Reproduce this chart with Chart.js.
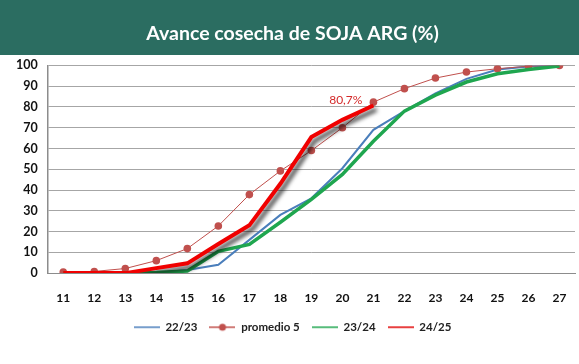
<!DOCTYPE html>
<html>
<head>
<meta charset="utf-8">
<script src="https://cdn.jsdelivr.net/npm/chart.js@4.4.1/dist/chart.umd.min.js"></script>
<style>
html,body{margin:0;padding:0;background:#fff;}
#wrap{width:579px;height:364px;position:relative;}
</style>
</head>
<body>
<div id="wrap"><canvas id="c" width="579" height="364"></canvas></div>
<script>
const weeks = ['11','12','13','14','15','16','17','18','19','20','21','22','23','24','25','26','27'];
const s2223 = [0, 0, 0, 0, 1.5, 4, 16, 28, 36, 50.5, 69, 78, 86.5, 93.5, 98, 99.5, 100];
const promedio5 = [0.5, 0.8, 2.2, 6, 11.8, 22.7, 37.8, 49.2, 59, 70, 82.3, 88.8, 93.9, 96.8, 98.4, 99.6, 100];
const s2324 = [0, 0, 0, 0.3, 1, 10.5, 13.8, 24.5, 35.5, 47.5, 63.5, 78, 85.7, 92, 96, 98, 99.7];
const s2425 = [0, 0, 0, 2.4, 4.7, 14, 23, 43, 65.5, 73.8, 80.7, null, null, null, null, null, null];
const yTicks = [0, 10, 20, 30, 40, 50, 60, 70, 80, 90, 100];
const titleText = 'Avance cosecha de SOJA ARG (%)';
const lastLabel = '80,7%';

const FONT = 'Lato, "Liberation Sans", sans-serif';

function legendImg(color, width, dot) {
  const cv = document.createElement('canvas');
  cv.width = 26; cv.height = 10;
  const c = cv.getContext('2d');
  c.strokeStyle = color; c.lineWidth = width;
  c.beginPath(); c.moveTo(0, 5); c.lineTo(26, 5); c.stroke();
  if (dot) { c.fillStyle = color; c.beginPath(); c.arc(13, 5, 3.5, 0, Math.PI * 2); c.fill(); }
  return cv;
}
const legImgs = [
  legendImg('#4a7ebb', 1.5, false),
  legendImg('#c0504d', 1.5, true),
  legendImg('#1fa64f', 1.5, false),
  legendImg('#e00000', 1.5, false)
];

const bgPlugin = {
  id: 'bg',
  beforeDraw(chart) {
    const ctx = chart.ctx;
    ctx.save();
    ctx.fillStyle = '#ffffff';
    ctx.fillRect(0, 0, chart.width, chart.height);
    ctx.fillStyle = '#2b6d61';
    ctx.fillRect(0, 0, chart.width, 55);
    ctx.restore();
  }
};

const shadowPlugin = {
  id: 'shadow',
  beforeDatasetDraw(chart, args) {
    if (args.index === 3) {
      const ctx = chart.ctx;
      ctx.save();
      ctx.shadowColor = 'rgba(0,0,0,0.75)';
      ctx.shadowBlur = 4;
      ctx.shadowOffsetX = 3;
      ctx.shadowOffsetY = 4;
    }
  },
  afterDatasetDraw(chart, args) {
    if (args.index === 3) chart.ctx.restore();
  }
};

const labelPlugin = {
  id: 'lastlabel',
  afterDatasetsDraw(chart) {
    const meta = chart.getDatasetMeta(3);
    const idx = 10;
    const pt = meta.data[idx];
    if (!pt) return;
    const ctx = chart.ctx;
    ctx.save();
    ctx.font = '12px ' + FONT;
    ctx.fillStyle = '#d42a2a';
    ctx.textAlign = 'right';
    ctx.textBaseline = 'middle';
    ctx.fillText(lastLabel, pt.x - 11, pt.y - 5);
    ctx.restore();
  }
};

new Chart(document.getElementById('c'), {
  type: 'line',
  data: {
    labels: weeks,
    datasets: [
      { label: '22/23', data: s2223, borderColor: '#4a7ebb', backgroundColor: '#4a7ebb', borderWidth: 2, pointRadius: 0, tension: 0, order: 4 },
      { label: 'promedio 5', data: promedio5, borderColor: '#c0504d', backgroundColor: '#c0504d', borderWidth: 1, pointRadius: 3.8, pointBackgroundColor: '#c0504d', pointBorderColor: '#c0504d', pointBorderWidth: 0, tension: 0, order: 3 },
      { label: '23/24', data: s2324, borderColor: '#1fa64f', backgroundColor: '#1fa64f', borderWidth: 3.5, pointRadius: 0, tension: 0, order: 2 },
      { label: '24/25', data: s2425, borderColor: '#f00000', backgroundColor: '#f00000', borderWidth: 4, pointRadius: 0, tension: 0, spanGaps: false, order: 1 }
    ]
  },
  options: {
    responsive: false,
    animation: false,
    devicePixelRatio: 1,
    layout: { padding: { top: 6, left: 6, right: 0, bottom: 21 } },
    plugins: {
      title: {
        display: true,
        text: titleText,
        color: '#ffffff',
        font: { family: FONT, size: 19.5, weight: 'bold' },
        padding: { top: 16, bottom: 20 }
      },
      legend: {
        position: 'bottom',
        labels: {
          usePointStyle: true,
          pointStyleWidth: 26,
          color: '#222222',
          font: { family: FONT, size: 11.5, weight: 'bold' },
          padding: 12,
          sort: (a, b) => a.datasetIndex - b.datasetIndex,
          generateLabels(chart) {
            const items = Chart.defaults.plugins.legend.labels.generateLabels(chart);
            items.forEach(it => { it.pointStyle = legImgs[it.datasetIndex]; });
            return items;
          }
        }
      },
      tooltip: { enabled: false }
    },
    scales: {
      x: {
        offset: true,
        grid: { display: true, drawOnChartArea: false, drawTicks: true, tickLength: 14, tickColor: 'rgba(0,0,0,0)' },
        border: { display: true, color: '#8c8c8c', width: 1 },
        ticks: { color: '#111', font: { family: FONT, size: 12, weight: 'bold' }, padding: 4, autoSkip: false, maxRotation: 0 }
      },
      y: {
        min: 0,
        max: 100,
        afterBuildTicks(scale) { scale.ticks = yTicks.map(v => ({ value: v })); },
        grid: { color: '#a6a6a6', lineWidth: 1, drawTicks: false },
        border: { display: true, color: '#8c8c8c', width: 1.5 },
        ticks: { color: '#111', font: { family: FONT, size: 12.5, weight: 'bold' }, padding: 10 }
      }
    }
  },
  plugins: [bgPlugin, shadowPlugin, labelPlugin]
});
</script>
</body>
</html>
